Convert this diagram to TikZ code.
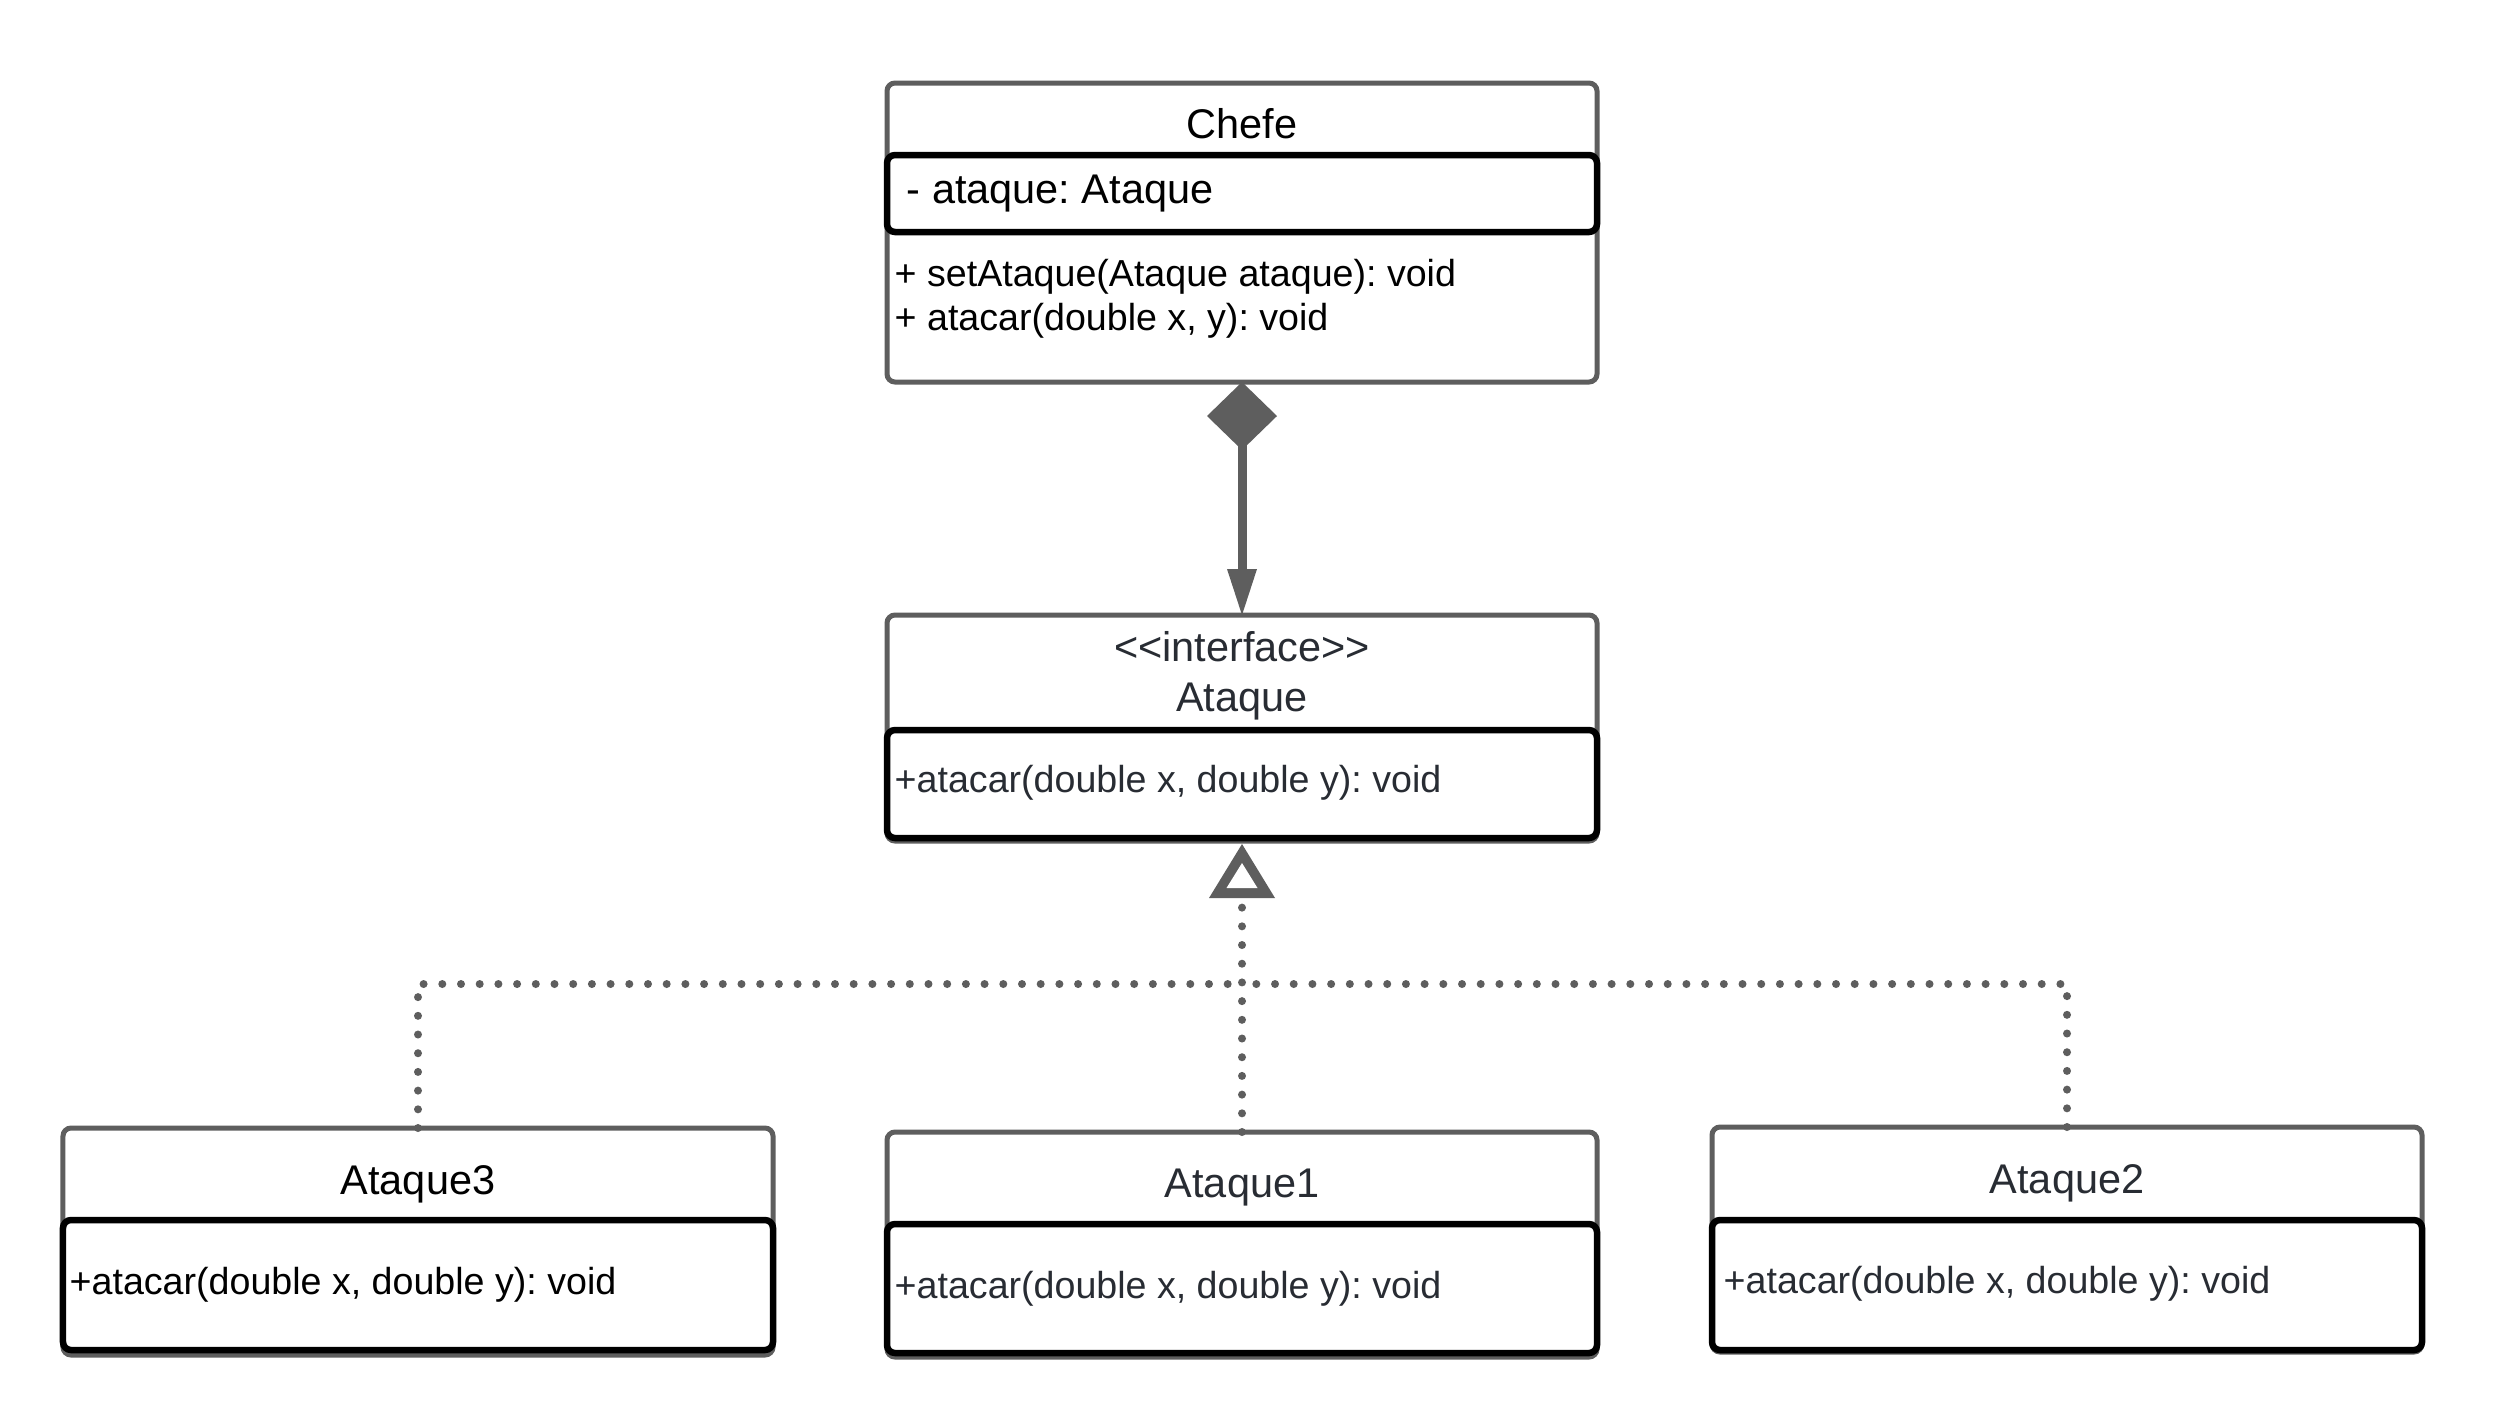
\documentclass[tikz,border=0pt]{standalone}
\usepackage{fontspec}
\newfontfamily\umlfont{Liberation Sans}
\usetikzlibrary{arrows.meta,calc}
\definecolor{linegray}{HTML}{5E5E5E}
\definecolor{txtdark}{HTML}{282C33}
\frenchspacing
\begin{document}
\begin{tikzpicture}[
  outerbox/.style={draw=linegray, line width=0.05cm, rounded corners=0.08cm, minimum width=7.10cm, inner sep=0pt, outer sep=0pt, fill=white},
  compbox/.style={draw=black, line width=0.065cm, rounded corners=0.08cm, minimum width=7.10cm, inner sep=0pt, outer sep=0pt},
  titletxt/.style={font=\umlfont\frenchspacing\fontsize{11.8}{14.5}\selectfont, anchor=base, inner sep=0pt},
  methtxt/.style={font=\umlfont\frenchspacing\fontsize{10.7}{12.8}\selectfont, anchor=base west, inner sep=0pt},
  realline/.style={draw=linegray, line width=0.08cm, line cap=round, dash pattern=on 0pt off 0.187cm},
  compline/.style={draw=linegray, line width=0.09cm, {Diamond[length=0.68cm,width=0.70cm,line width=0pt]}-{Triangle[length=0.46cm,width=0.30cm,line width=0pt]}},
]
\useasboundingbox (0,0) rectangle (24.94,-14.16);
\fill[white] (0,0) rectangle (24.94,-14.16);

% Chefe
\node[outerbox, minimum height=2.99cm] (chefe) at (12.42,-2.325) {};
\node[compbox, minimum height=0.77cm] (chefeattr) at (12.42,-1.935) {};
\node[titletxt, text=black] (chefetitle) at (12.42,-1.38) {Chefe};
\node[methtxt, font=\umlfont\frenchspacing\fontsize{11.8}{14.5}\selectfont, text=black] (chefeattrtxt) at (9.06,-2.03) {- ataque: Ataque};
\node[methtxt, text=black] (chefeop1) at (8.94,-2.86) {+ setAtaque(Ataque ataque): void};
\node[methtxt, text=black] (chefeop2) at (8.94,-3.30) {+ atacar(double x, y): void};

% Ataque interface
\node[outerbox, minimum height=2.26cm] (ataque) at (12.42,-7.28) {};
\node[compbox, minimum height=1.08cm] (ataqueops) at (12.42,-7.84) {};
\node[titletxt, text=txtdark] (ataquestereo) at (12.42,-6.61) {<<interface>>};
\node[titletxt, text=txtdark] (ataquetitle) at (12.42,-7.11) {Ataque};
\node[methtxt, text=txtdark] (ataqueop) at (8.94,-7.92) {+atacar(double x, double y): void};

% Ataque3
\node[outerbox, minimum height=2.27cm] (ataque3) at (4.18,-12.415) {};
\node[compbox, minimum height=1.30cm] (ataque3ops) at (4.18,-12.85) {};
\node[titletxt, text=black] (ataque3title) at (4.18,-11.94) {Ataque3};
\node[methtxt, text=black] (ataque3op) at (0.69,-12.94) {+atacar(double x, double y): void};

% Ataque1
\node[outerbox, minimum height=2.25cm] (ataque1) at (12.42,-12.445) {};
\node[compbox, minimum height=1.29cm] (ataque1ops) at (12.42,-12.885) {};
\node[titletxt, text=txtdark] (ataque1title) at (12.42,-11.97) {Ataque1};
\node[methtxt, text=txtdark] (ataque1op) at (8.94,-12.98) {+atacar(double x, double y): void};

% Ataque2
\node[outerbox, minimum height=2.25cm] (ataque2) at (20.67,-12.395) {};
\node[compbox, minimum height=1.30cm] (ataque2ops) at (20.67,-12.85) {};
\node[titletxt, text=txtdark] (ataque2title) at (20.67,-11.93) {Ataque2};
\node[methtxt, text=txtdark] (ataque2op) at (17.23,-12.93) {+atacar(double x, double y): void};

% composition
\draw[compline] (chefe.south) -- (ataque.north);

% realization triangle
\coordinate (tritip) at ($(ataque.south)+(0,-0.03)$);
\fill[linegray] (tritip) -- ++(0.33,-0.54) -- ++(-0.66,0) -- cycle;
\fill[white] ($(tritip)+(0,-0.19)$) -- ++(0.155,-0.25) -- ++(-0.31,0) -- cycle;
\coordinate (tribase) at ($(tritip)+(0,-0.54)$);
\coordinate (hub) at (12.42,-9.84);

% realization lines
\draw[realline] (ataque1.north) -- (tribase);
\draw[realline] (ataque3.north) -- (ataque3.north |- hub) -- (hub);
\draw[realline] (ataque2.north) -- (ataque2.north |- hub) -- (hub);
\end{tikzpicture}
\end{document}
